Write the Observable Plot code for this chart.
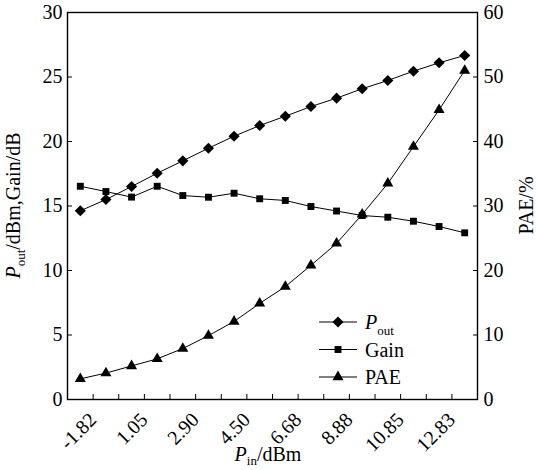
<!DOCTYPE html>
<html><head><meta charset="utf-8">
<script src="https://cdn.jsdelivr.net/npm/d3@7"></script>
<script src="https://cdn.jsdelivr.net/npm/@observablehq/plot@0.6"></script>
<style>
html,body{margin:0;padding:0;background:#fff}
svg{display:block}
</style>
</head><body><div id="chart"></div>
<script>
// Tick labels (Pin, dBm) shown on every other category boundary
const pinLabels = ["-1.82","1.05","2.90","4.50","6.68","8.88","10.85","12.83"];
// Series (16 input power steps)
const pout = [14.63,15.50,16.51,17.54,18.50,19.48,20.41,21.24,21.96,22.71,23.36,24.09,24.73,25.45,26.10,26.67];
const gain = [16.53,16.12,15.69,16.53,15.81,15.68,15.99,15.56,15.43,14.96,14.61,14.26,14.13,13.82,13.41,12.92];
const pae  = [3.2,4.1,5.2,6.3,7.9,9.9,12.1,14.9,17.5,20.8,24.2,28.7,33.5,39.2,44.9,51.0];
// Axis ticks
const leftTicks = [0,5,10,15,20,25,30];
const rightTicks = [0,10,20,30,40,50,60];
const paeScale = 2; // right axis max 60 vs left max 30

const rows = pout.map((v, i) => ({i, pout: v, gain: gain[i], pae: pae[i]}));
const boundaries = d3.range(rows.length - 1).map(i => i + 0.5);
const labelPos = pinLabels.map((_, k) => 2 * k + 0.5);

const fontCss = "'Liberation Serif'";
const W = 536, H = 470, mL = 67, mR = 59, mT = 12, mB = 71;

const svg = Plot.plot({
  width: W, height: H,
  marginLeft: mL, marginRight: mR, marginTop: mT, marginBottom: mB,
  style: {fontFamily: fontCss, fontSize: "20px", color: "black", background: "white"},
  x: {domain: [-0.5, rows.length - 0.5]},
  y: {domain: [0, 30]},
  marks: [
    Plot.axisY(leftTicks, {anchor: "left", tickSize: 5, dx: 5, tickPadding: 5, label: null}),
    Plot.axisY(rightTicks.map(d => d / paeScale), {anchor: "right", tickSize: 5, dx: -5, tickPadding: 6,
      tickFormat: d => String(d * paeScale), label: null}),
    Plot.axisX(boundaries, {anchor: "bottom", tickSize: 5, dy: -5, fill: "none", label: null}),
    Plot.axisX(labelPos, {anchor: "bottom", tickSize: 0, tickPadding: 17, tickRotate: -45,
      tickFormat: d => pinLabels[labelPos.indexOf(d)], label: null}),
    Plot.frame({stroke: "black", strokeWidth: 1.4}),
    Plot.line(rows, {x: "i", y: "pout", stroke: "black", strokeWidth: 1}),
    Plot.line(rows, {x: "i", y: "gain", stroke: "black", strokeWidth: 1}),
    Plot.line(rows, {x: "i", y: d => d.pae / paeScale, stroke: "black", strokeWidth: 1}),
    Plot.dot(rows, {x: "i", y: "pout", symbol: "diamond2", r: 5, fill: "black", stroke: "none"}),
    Plot.dot(rows, {x: "i", y: "gain", symbol: "square", r: 3.9, fill: "black", stroke: "none"}),
    Plot.dot(rows, {x: "i", y: d => d.pae / paeScale, symbol: "triangle", r: 4.1, fill: "black", stroke: "none"})
  ]
});
document.getElementById("chart").appendChild(svg);

const s = d3.select(svg);
const addRich = (g, parts) => {
  parts.forEach(p => {
    const t = g.append("tspan").text(p.t);
    if (p.italic) t.style("font-style", "italic");
    if (p.size) t.style("font-size", p.size + "px");
    if (p.dy) t.attr("dy", p.dy);
  });
};
const txt = (sel) => sel.style("font-size", "20px").attr("fill", "black");

// Left axis label
const ll = txt(s.append("text").attr("transform", `translate(20,${(mT + H - mB) / 2}) rotate(-90)`)
  .attr("text-anchor", "middle"));
addRich(ll, [{t: "P", italic: true}, {t: "out", size: 13, dy: 5}, {t: "/dBm,Gain/dB", dy: -5}]);

// Right axis label
txt(s.append("text").attr("transform", `translate(533,${(mT + H - mB) / 2}) rotate(-90)`)
  .attr("text-anchor", "middle")).text("PAE/%");

// Bottom axis label
const bl = txt(s.append("text").attr("x", 268).attr("y", 461).attr("text-anchor", "middle"));
addRich(bl, [{t: "P", italic: true}, {t: "in", size: 13, dy: 4}, {t: "/dBm", dy: -4}]);

// Legend
const legend = [
  {parts: [{t: "P", italic: true}, {t: "out", size: 13, dy: 6}], sym: d3.symbolDiamond2, size: Math.PI * 25},
  {parts: [{t: "Gain"}], sym: d3.symbolSquare, size: Math.PI * 3.9 * 3.9},
  {parts: [{t: "PAE"}], sym: d3.symbolTriangle, size: Math.PI * 4.1 * 4.1}
];
const lg = s.append("g");
legend.forEach((e, k) => {
  const cy = 322 + k * 27.5;
  lg.append("line").attr("x1", 319).attr("x2", 357).attr("y1", cy).attr("y2", cy).attr("stroke", "black");
  lg.append("path").attr("transform", `translate(338,${cy})`).attr("d", d3.symbol(e.sym, e.size)()).attr("fill", "black");
  const t = txt(lg.append("text").attr("x", 365).attr("y", cy + 7).attr("text-anchor", "start"));
  addRich(t, e.parts);
});

// Force the serif face on every text element
s.selectAll("text").style("font-family", fontCss);
s.selectAll("tspan").style("font-family", fontCss);
</script>
</body></html>
